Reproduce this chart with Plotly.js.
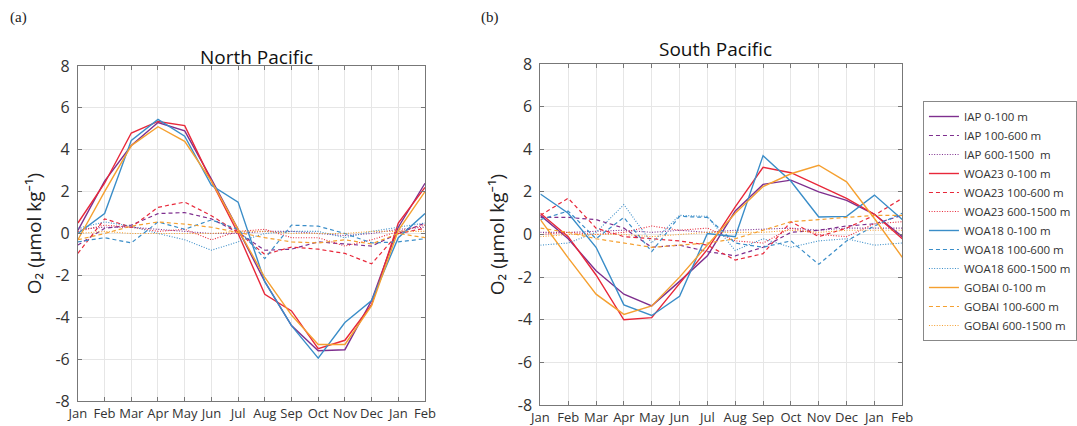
<!DOCTYPE html>
<html>
<head>
<meta charset="utf-8">
<script src="https://cdn.plot.ly/plotly-3.0.1.min.js"></script>
<style>html,body{margin:0;padding:0;background:#fff;}#chart{width:1077px;height:426px;}</style>
</head>
<body>
<div id="chart"></div>
<script>
// ---- categories / ticks ----
const monthIndex = [1,2,3,4,5,6,7,8,9,10,11,12,13,14];
const monthLabels = ['Jan','Feb','Mar','Apr','May','Jun','Jul','Aug','Sep','Oct','Nov','Dec','Jan','Feb'];
const yTickVals = [-8,-6,-4,-2,0,2,4,6,8];
const yTickText = ['-8','-6','-4','-2','0','2','4','6','8'];

// ---- series names ----
const seriesNames = [
  'IAP 0-100 m','IAP 100-600 m','IAP 600-1500  m',
  'WOA23 0-100 m','WOA23 100-600 m','WOA23 600-1500 m',
  'WOA18 0-100 m','WOA18 100-600 m','WOA18 600-1500 m',
  'GOBAI 0-100 m','GOBAI 100-600 m','GOBAI 600-1500 m'
];

// ---- North Pacific (a) ----
const np_IAP_0     = [0.15, 2.5, 4.2, 5.3, 4.9, 2.6, 0.2, -2.3, -4.4, -5.6, -5.55, -3.2, 0.3, 2.4];
const np_IAP_100   = [-0.55, 0.25, 0.4, 0.95, 1.0, 0.7, 0.05, -0.8, -0.75, -0.4, -0.5, -0.6, 0.0, 0.5];
const np_IAP_600   = [0.2, 0.3, 0.3, 0.2, 0.1, 0.0, 0.0, 0.1, 0.1, 0.0, -0.1, 0.0, 0.2, 0.3];
const np_WOA23_0   = [0.5, 2.4, 4.8, 5.35, 5.15, 2.5, 0.0, -2.9, -3.7, -5.5, -5.1, -3.4, 0.5, 2.2];
const np_WOA23_100 = [-0.95, 0.7, 0.3, 1.25, 1.5, 0.85, 0.05, -1.0, -0.65, -0.75, -0.95, -1.45, 0.0, 0.25];
const np_WOA23_600 = [0.1, 0.4, 0.3, 0.1, 0.2, -0.3, 0.1, 0.2, -0.2, -0.2, -0.6, -0.3, 0.1, 0.4];
const np_WOA18_0   = [0.0, 0.95, 4.45, 5.45, 4.65, 2.3, 1.5, -2.3, -4.4, -5.95, -4.25, -3.2, -0.2, 0.95];
const np_WOA18_100 = [-0.4, -0.2, -0.45, 0.55, 0.2, 0.65, 0.2, -1.2, 0.4, 0.35, 0.0, -0.45, -0.4, -0.25];
const np_WOA18_600 = [0.25, 0.55, 0.35, 0.0, -0.3, -0.8, -0.4, 0.0, 0.1, 0.1, -0.2, 0.1, 0.3, 0.5];
const np_GOBAI_0   = [-0.3, 2.0, 4.2, 5.1, 4.4, 2.5, 0.2, -2.1, -3.9, -5.3, -5.3, -3.45, 0.15, 2.0];
const np_GOBAI_100 = [-0.3, 0.0, 0.35, 0.55, 0.45, 0.3, 0.05, -0.2, -0.4, -0.45, -0.3, -0.5, 0.0, -0.2];
const np_GOBAI_600 = [0.0, 0.1, 0.0, 0.0, 0.0, 0.0, 0.1, 0.1, 0.0, 0.0, 0.0, 0.1, 0.1, 0.1];

// ---- South Pacific (b) ----
const sp_IAP_0     = [0.9, -0.2, -1.7, -2.8, -3.35, -2.2, -1.0, 1.1, 2.35, 2.55, 2.0, 1.6, 0.95, -0.1];
const sp_IAP_100   = [0.8, 0.8, 0.7, 0.3, -0.6, -0.5, -0.8, -1.0, -0.6, 0.1, 0.2, 0.4, 0.5, 0.9];
const sp_IAP_600   = [0.1, 0.1, 0.15, 0.2, 0.1, 0.2, 0.1, 0.2, 0.25, 0.3, 0.2, 0.3, 0.3, 0.3];
const sp_WOA23_0   = [1.0, -0.1, -1.9, -4.0, -3.9, -2.3, -0.7, 1.3, 3.15, 2.9, 2.3, 1.7, 0.95, -0.2];
const sp_WOA23_100 = [0.9, 1.7, 0.3, -0.1, -0.2, -0.3, -0.5, -1.2, -0.9, 0.6, -0.1, 0.3, 0.9, 1.7];
const sp_WOA23_600 = [0.0, 0.1, 0.0, 0.1, 0.4, 0.2, 0.3, -0.3, -0.4, 0.3, 0.0, -0.1, 0.5, 0.6];
const sp_WOA18_0   = [1.9, 1.0, -0.6, -3.3, -3.8, -2.9, 0.05, -0.1, 3.7, 2.5, 0.82, 0.85, 1.85, 0.7];
const sp_WOA18_100 = [0.7, 1.1, -0.2, 0.8, -0.8, 0.85, 0.8, -0.4, -0.6, -0.3, -1.4, -0.3, 0.4, 1.0];
const sp_WOA18_600 = [-0.5, -0.4, 0.1, 1.4, -0.4, 0.9, 0.85, -0.75, -0.2, -0.6, -0.3, -0.2, -0.5, -0.4];
const sp_GOBAI_0   = [0.7, -1.1, -2.8, -3.75, -3.35, -2.0, -0.5, 1.0, 2.25, 2.85, 3.25, 2.47, 0.75, -1.07];
const sp_GOBAI_100 = [0.3, 0.1, -0.2, -0.4, -0.6, -0.5, -0.4, -0.2, 0.2, 0.6, 0.7, 0.8, 0.9, 0.9];
const sp_GOBAI_600 = [-0.1, 0.0, 0.0, 0.0, -0.1, 0.0, 0.1, 0.1, 0.1, 0.2, 0.1, 0.2, 0.2, 0.2];

const npSeries = [np_IAP_0,np_IAP_100,np_IAP_600,np_WOA23_0,np_WOA23_100,np_WOA23_600,
                  np_WOA18_0,np_WOA18_100,np_WOA18_600,np_GOBAI_0,np_GOBAI_100,np_GOBAI_600];
const spSeries = [sp_IAP_0,sp_IAP_100,sp_IAP_600,sp_WOA23_0,sp_WOA23_100,sp_WOA23_600,
                  sp_WOA18_0,sp_WOA18_100,sp_WOA18_600,sp_GOBAI_0,sp_GOBAI_100,sp_GOBAI_600];

// ---- styles ----
const productColors = ['#7E2F8E','#E8283A','#3A8DC8','#F5A030'];
const layerDash = ['solid','4px,3px','1px,1.6px'];
const layerWidth = [1.4, 1.2, 1.1];

const traces = [];
function addPanel(series, xa, ya, showLeg) {
  series.forEach((vals, i) => {
    const p = Math.floor(i / 3), l = i % 3;
    traces.push({
      x: monthIndex, y: vals, type: 'scatter', mode: 'lines',
      name: seriesNames[i], legendgroup: seriesNames[i], showlegend: showLeg,
      xaxis: xa, yaxis: ya,
      line: {color: productColors[p], width: layerWidth[l], dash: layerDash[l]},
      hoverinfo: 'skip'
    });
  });
}
addPanel(spSeries, 'x2', 'y2', true);
addPanel(npSeries, 'x', 'y', false);

const fontFam = 'Open Sans, Noto Sans, sans-serif';
function xAxis(domain, anchor) {
  return {
    domain: domain, anchor: anchor, range: [1, 14],
    tickmode: 'array', tickvals: monthIndex, ticktext: monthLabels, tickangle: 0,
    ticks: 'inside', ticklen: 4, tickcolor: '#777', tickwidth: 1,
    showline: true, linecolor: '#777', linewidth: 1, mirror: 'ticks',
    showgrid: true, gridcolor: '#e6e6e6', gridwidth: 1, zeroline: false,
    tickfont: {family: fontFam, size: 13, color: '#333'}, fixedrange: true
  };
}
function yAxis(domain, anchor) {
  return {
    domain: domain, anchor: anchor, range: [-8, 8],
    tickmode: 'array', tickvals: yTickVals, ticktext: yTickText,
    ticks: 'inside', ticklen: 4, tickcolor: '#777', tickwidth: 1,
    showline: true, linecolor: '#777', linewidth: 1, mirror: 'ticks',
    showgrid: true, gridcolor: '#e6e6e6', gridwidth: 1, zeroline: false,
    ticklabelstandoff: 4,
    tickfont: {family: fontFam, size: 16, color: '#333'},
    title: {text: 'O₂ (μmol kg⁻¹)', font: {family: fontFam, size: 19, color: '#222'}, standoff: 8},
    fixedrange: true
  };
}

const layout = {
  width: 1077, height: 426,
  margin: {l: 0, r: 0, t: 0, b: 0},
  paper_bgcolor: '#fff', plot_bgcolor: '#fff',
  xaxis: xAxis([79/1077, 431/1077], 'y'),
  yaxis: yAxis([1 - 401/426, 1 - 66/426], 'x'),
  xaxis2: xAxis([548/1077, 915/1077], 'y2'),
  yaxis2: yAxis([1 - 405/426, 1 - 64/426], 'x2'),
  showlegend: true,
  legend: {
    x: 936/1077, xanchor: 'left', y: 1 - 221/426, yanchor: 'middle',
    bordercolor: '#888', borderwidth: 1, bgcolor: '#fff',
    font: {family: fontFam, size: 11.5, color: '#333'},
    tracegroupgap: 0, itemwidth: 30
  },
  annotations: [
    {text: 'North Pacific', xref: 'paper', yref: 'paper', x: 260/1077, y: 1 - 57/426,
     xanchor: 'center', yanchor: 'middle', showarrow: false, font: {family: fontFam, size: 19, color: '#111'}},
    {text: 'South Pacific', xref: 'paper', yref: 'paper', x: 726/1077, y: 1 - 49/426,
     xanchor: 'center', yanchor: 'middle', showarrow: false, font: {family: fontFam, size: 19, color: '#111'}},
    {text: '(a)', xref: 'paper', yref: 'paper', x: 8/1077, y: 1 - 18/426,
     xanchor: 'left', yanchor: 'middle', showarrow: false, font: {family: 'Liberation Serif, serif', size: 15, color: '#222'}},
    {text: '(b)', xref: 'paper', yref: 'paper', x: 486/1077, y: 1 - 18/426,
     xanchor: 'left', yanchor: 'middle', showarrow: false, font: {family: 'Liberation Serif, serif', size: 15, color: '#222'}}
  ]
};

Plotly.newPlot('chart', traces, layout, {displayModeBar: false, staticPlot: true});
</script>
</body>
</html>
